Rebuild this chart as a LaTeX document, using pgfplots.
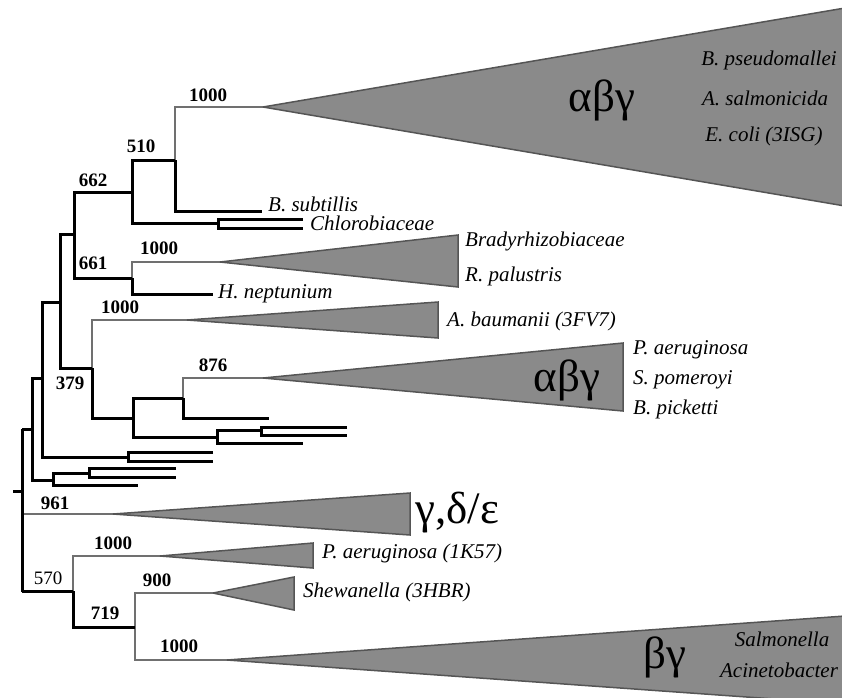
\documentclass[border=0pt]{standalone}
\usepackage{pgfplots}
\pgfplotsset{compat=1.18}
\usepackage{fontspec}
\setmainfont{Liberation Serif}
\definecolor{brgray}{HTML}{707070}
\definecolor{trifill}{HTML}{8A8A8A}
\definecolor{triedge}{HTML}{555555}
\begin{document}
\begin{tikzpicture}[
  blk/.style={black,line width=3pt,line join=miter,line cap=butt,mark=none},
  gry/.style={brgray,line width=2.3pt,line join=miter,mark=none},
  tri/.style={fill=trifill,draw=triedge,line width=1.5pt,line join=miter,mark=none},
  lab/.style={font=\fontsize{21}{21}\selectfont\itshape,inner sep=0pt},
  bs/.style={font=\fontsize{19}{19}\selectfont\bfseries,inner sep=0pt},
  bn/.style={font=\fontsize{19}{19}\selectfont,inner sep=0pt},
  grk/.style={font=\fontsize{45}{45}\selectfont,inner sep=0pt}]
\begin{axis}[x=1pt,y=1pt,scale only axis,
  xmin=0,xmax=842,ymin=0,ymax=697,y dir=reverse,
  axis line style={draw=none},ticks=none,clip=true]
% grey branches leading to collapsed clades
\addplot[gry] coordinates {(175,161) (175,107) (265,107)};
\addplot[gry] coordinates {(132,279) (132,262) (222,262)};
\addplot[gry] coordinates {(92,369) (92,320) (189,320)};
\addplot[gry] coordinates {(183,399) (183,378) (265,378)};
\addplot[gry] coordinates {(22,514) (115,514)};
\addplot[gry] coordinates {(73,592) (73,556) (162,556)};
\addplot[gry] coordinates {(135,627) (135,593) (215,593)};
\addplot[gry] coordinates {(135,627) (135,660) (229,660)};
% collapsed clades
\addplot[tri] coordinates {(263,107) (845,8) (845,206) (263,107)};
\addplot[tri] coordinates {(220,262) (458,235) (458,287) (220,262)};
\addplot[tri] coordinates {(187,320) (438,302) (438,338) (187,320)};
\addplot[tri] coordinates {(263,378) (623,343) (623,411) (263,378)};
\addplot[tri] coordinates {(113,514) (410,493) (410,535) (113,514)};
\addplot[tri] coordinates {(160,556) (313,543) (313,568) (160,556)};
\addplot[tri] coordinates {(213,593) (294,577) (294,610) (213,593)};
\addplot[tri] coordinates {(227,660) (845,616) (845,704) (227,660)};
% black tree
\addplot[blk] coordinates {(13,491) (22,491)};
\addplot[blk] coordinates {(22,429) (22,592)};
\addplot[blk] coordinates {(22,429) (32,429)};
\addplot[blk] coordinates {(42,378) (32,378) (32,480) (53,480)};
\addplot[blk] coordinates {(60,302) (42,302) (42,457) (128,457)};
\addplot[blk] coordinates {(213,452) (128,452) (128,461) (213,461)};
\addplot[blk] coordinates {(89,473) (53,473) (53,485) (138,485)};
\addplot[blk] coordinates {(176,468) (89,468) (89,477) (176,477)};
\addplot[blk] coordinates {(74,234) (60,234) (60,368) (92,368)};
\addplot[blk] coordinates {(132,192) (74,192) (74,278) (132,278)};
\addplot[blk] coordinates {(175,160) (132,160) (132,223) (218,223)};
\addplot[blk] coordinates {(175,160) (175,211) (262,211)};
\addplot[blk] coordinates {(303,219) (218,219) (218,228) (303,228)};
\addplot[blk] coordinates {(132,278) (132,294) (213,294)};
\addplot[blk] coordinates {(92,368) (92,418) (133,418)};
\addplot[blk] coordinates {(183,398) (133,398) (133,437) (217,437)};
\addplot[blk] coordinates {(183,398) (183,418) (269,418)};
\addplot[blk] coordinates {(261,430) (217,430) (217,443) (303,443)};
\addplot[blk] coordinates {(347,427) (261,427) (261,435) (347,435)};
\addplot[blk] coordinates {(22,591) (73,591)};
\addplot[blk] coordinates {(73,591) (73,627) (135,627)};
% taxon labels
\node[lab,anchor=west] at (axis cs:268,204) {B. subtillis};
\node[lab,anchor=west] at (axis cs:310,223) {Chlorobiaceae};
\node[lab,anchor=west] at (axis cs:465,241) {Bradyrhizobiaceae};
\node[lab,anchor=west] at (axis cs:465,276) {R. palustris};
\node[lab,anchor=west] at (axis cs:218,294) {H. neptunium};
\node[lab,anchor=west] at (axis cs:447,321) {A. baumanii (3FV7)};
\node[lab,anchor=west] at (axis cs:633,350) {P. aeruginosa};
\node[lab,anchor=west] at (axis cs:633,380) {S. pomeroyi};
\node[lab,anchor=west] at (axis cs:633,409) {B. picketti};
\node[lab,anchor=west] at (axis cs:322,553) {P. aeruginosa (1K57)};
\node[lab,anchor=west] at (axis cs:303,592) {Shewanella (3HBR)};
\node[lab] at (axis cs:769,60) {B. pseudomallei};
\node[lab] at (axis cs:765,98) {A. salmonicida};
\node[lab] at (axis cs:764,136) {E. coli (3ISG)};
\node[lab] at (axis cs:782,639) {Salmonella};
\node[lab] at (axis cs:779,670) {Acinetobacter};
% group labels
\node[grk] at (axis cs:602,100) {αβγ};
\node[grk] at (axis cs:567,380) {αβγ};
\node[grk,anchor=west] at (axis cs:415,513) {γ,δ/ε};
\node[grk] at (axis cs:665,657) {βγ};
% bootstrap values
\node[bs] at (axis cs:208,95) {1000};
\node[bs] at (axis cs:141,146) {510};
\node[bs] at (axis cs:93,180) {662};
\node[bs] at (axis cs:93,263) {661};
\node[bs] at (axis cs:159,248) {1000};
\node[bs] at (axis cs:120,307) {1000};
\node[bs] at (axis cs:213,365) {876};
\node[bs] at (axis cs:70,383) {379};
\node[bs] at (axis cs:55,503) {961};
\node[bs] at (axis cs:113,543) {1000};
\node[bn] at (axis cs:48,578) {570};
\node[bs] at (axis cs:157,580) {900};
\node[bs] at (axis cs:105,613) {719};
\node[bs] at (axis cs:179,646) {1000};
\end{axis}
\end{tikzpicture}
\end{document}
